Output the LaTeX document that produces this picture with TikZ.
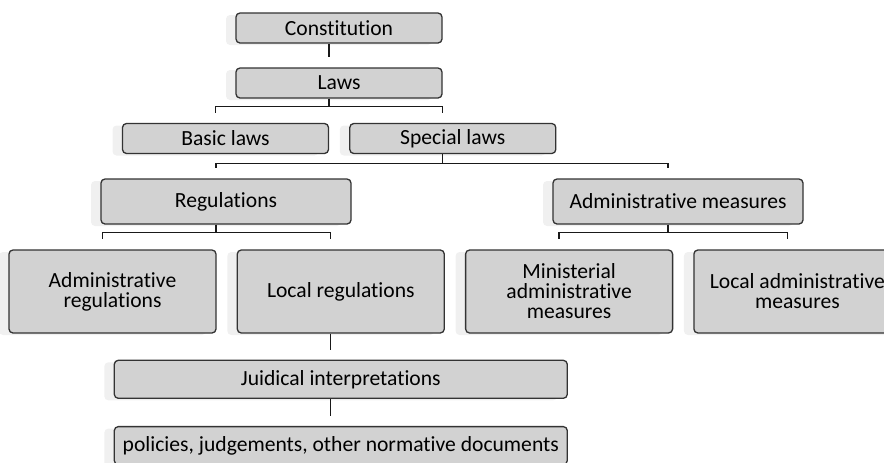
\documentclass[tikz,border=0pt]{standalone}
\usepackage{fontspec}
\setmainfont{Carlito}[Ligatures=NoCommon, RawFeature={-liga;-clig;-calt;-dlig}]
\usetikzlibrary{positioning,shadows}
\tikzset{
	x=0.5pt, y=-0.5pt, % one unit is one pixel of the sketch, y runs down
	box/.style={draw=black!80, line width=0.65pt, fill=gray!35, rounded corners=2pt,
		align=center, inner sep=1pt, text=black,
		font=\fontsize{10.8}{10}\selectfont,
		drop shadow={shadow xshift=-5pt, shadow yshift=-1pt, fill=gray!12, opacity=1}},
	lawbox/.style={box, minimum width=103pt, minimum height=15pt},
	rulebox/.style={box, minimum width=125pt, minimum height=22.5pt},
	leafbox/.style={box, minimum width=103.5pt, minimum height=41.5pt},
	barbox/.style={box, minimum width=226.5pt, minimum height=19pt},
	link/.style={draw=black!90, line width=0.65pt},
	linkout/.style={xshift=-5pt}, % connectors run 10px left of the box centres
	linkin/.style={xshift=-5pt, yshift=5pt},
}

\begin{document}
\begin{tikzpicture}
	\useasboundingbox (0,0) rectangle (884,462);

	\node[lawbox] (const) at (339,28) {Constitution};
	\node[lawbox] (laws) at (339,83) {Laws};
	\node[lawbox] (basic) at (225.5,138.5) {Basic laws};
	\node[lawbox, right=10pt of basic] (special) {Special laws};

	\node[rulebox] (regs) at (226,201.5) {Regulations};
	\node[rulebox] (admmeas) at (678,201.5) {Administrative measures};

	\node[leafbox] (admregs) at (112.5,291.5) {Administrative\\regulations};
	\node[leafbox, right=10pt of admregs] (localregs) {Local regulations};
	\node[leafbox, right=10pt of localregs] (minist) {Ministerial\\administrative\\measures};
	\node[leafbox, right=10pt of minist] (localadm) {Local administrative\\measures};

	\node[barbox, below=13pt of localregs] (judicial) {Juidical interpretations};
	\node[barbox, below=13.5pt of judicial] (policies) {policies, judgements, other normative documents};

	\draw[link] ([linkout]const.south) -- ([linkin]laws.north);
	\draw[link] ([linkout]laws.south) -- ++(0,8) -| ([linkin]basic.north);
	\draw[link] ([linkout]laws.south) -- ++(0,8) -| ([linkin]special.north);
	\draw[link] ([linkout]special.south) -- ++(0,9) -| ([linkin]regs.north);
	\draw[link] ([linkout]special.south) -- ++(0,9) -| ([linkin]admmeas.north);
	\draw[link] ([linkout]regs.south) -- ++(0,8) -| ([linkin]admregs.north);
	\draw[link] ([linkout]regs.south) -- ++(0,8) -| ([linkin]localregs.north);
	\draw[link] ([linkout]admmeas.south) -- ++(0,8) -| ([linkin]minist.north);
	\draw[link] ([linkout]admmeas.south) -- ++(0,8) -| ([linkin]localadm.north);
	\draw[link] ([linkout]localregs.south) -- ([linkin]judicial.north);
	\draw[link] ([linkout]judicial.south) -- ([linkin]policies.north);
\end{tikzpicture}
\end{document}
